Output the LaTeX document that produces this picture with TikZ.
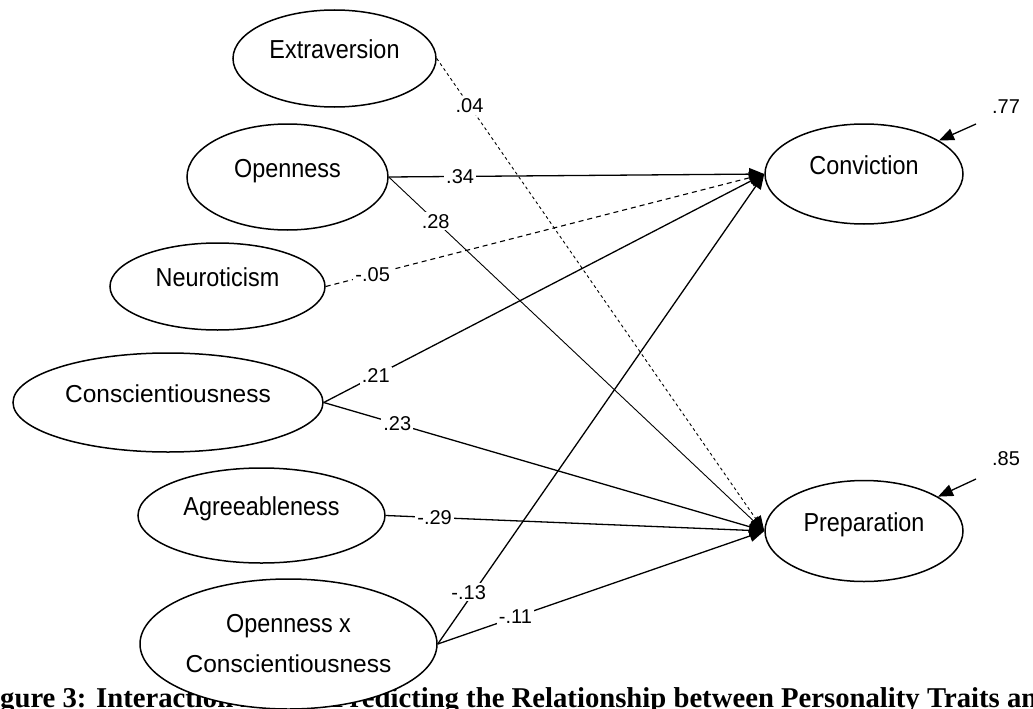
\documentclass[tikz,border=0pt]{standalone}
\usepackage{fontspec}
\setmainfont{Liberation Serif}
\newfontfamily\narrowsf[FakeStretch=0.9]{Liberation Sans}
\newfontfamily\plainsf{Liberation Sans}
\usetikzlibrary{
        arrows.meta,
        positioning,
        shapes.geometric
    }
\tikzset{>={Triangle[length=15pt,width=12pt]},node distance=2cm}
\tikzset{
    trait/.style={ellipse,draw,line width=1.5pt,fill=white,inner sep=0pt,
        font=\narrowsf\fontsize{26pt}{31pt}\selectfont},
    oneline/.style={trait,text height=19pt,text depth=19pt},
    coef/.style={fill=white,inner sep=2pt,font=\plainsf\fontsize{20pt}{24pt}\selectfont},
    caption/.style={inner sep=0pt,font=\bfseries\fontsize{28.7pt}{34pt}\selectfont}
}

\begin{document}
\begin{tikzpicture}[x=1pt,y=-1pt]
    \useasboundingbox (0,0) rectangle (1033,709);
    \clip (0,0) rectangle (1033,709);
    % caption, half hidden behind the interaction term
    \node[caption,anchor=base west] (cap) at (-25.5,707)
        {Figure 3: Interaction Effects Predicting the Relationship between Personality Traits and};
    % predictors
    \node[oneline,minimum width=203pt,minimum height=97pt] (extra) at (334.5,58.5) {Extraversion};
    \node[oneline,minimum width=201pt,minimum height=106pt] (open) at (287.5,177) {Openness};
    \node[oneline,minimum width=215pt,minimum height=87pt] (neuro) at (217.5,286.5) {Neuroticism};
    \node[oneline,minimum width=310pt,minimum height=99pt,
        font=\plainsf\fontsize{24.5pt}{29pt}\selectfont] (consc) at (168,402.5) {Conscientiousness};
    \node[oneline,minimum width=247pt,minimum height=95pt] (agree) at (261.5,515.5) {Agreeableness};
    \node[trait,minimum width=297pt,minimum height=130pt,align=center] (oxc) at (288.5,644)
        {Openness x\\[9pt]{\plainsf\fontsize{24.5pt}{29pt}\selectfont Conscientiousness}};
    % outcomes
    \node[oneline,minimum width=198pt,minimum height=100pt] (conv) at (864,174) {Conviction};
    \node[oneline,minimum width=198pt,minimum height=101pt] (prep) [below=255pt of conv] {Preparation};
    % residuals
    \coordinate (e1) at (976,124);
    \coordinate (e2) at (976,479);
    \node[coef,fill=none] (r1) at (1006,107) {.77};
    \node[coef,fill=none] (r2) at (1006,459) {.85};

    \path[->,line width=1.3pt]
        (extra.east) edge[line width=0.9pt,dash pattern=on 3pt off 3pt] node[coef,pos=.1] {.04} (prep.west)
        (open.east)  edge node[coef,pos=.19] {.34} (conv.west)
        (open.east)  edge[line width=0.9pt] node[coef,pos=.125] {.28} (prep.west)
        (neuro.east) edge[line width=1.1pt,dash pattern=on 5pt off 4pt] node[coef,pos=.107] {-.05} (conv.west)
        (consc.east) edge node[coef,pos=.118] {.21} (conv.west)
        (consc.east) edge node[coef,pos=.167] {.23} (prep.west)
        (agree.east) edge node[coef,pos=.129] {-.29} (prep.west)
        (oxc.east)   edge node[coef,pos=.11,xshift=-5pt] {-.13} (conv.west)
        (oxc.east)   edge node[coef,pos=.238] {-.11} (prep.west)
        (e1) edge (conv)
        (e2) edge (prep);
\end{tikzpicture}
\end{document}
